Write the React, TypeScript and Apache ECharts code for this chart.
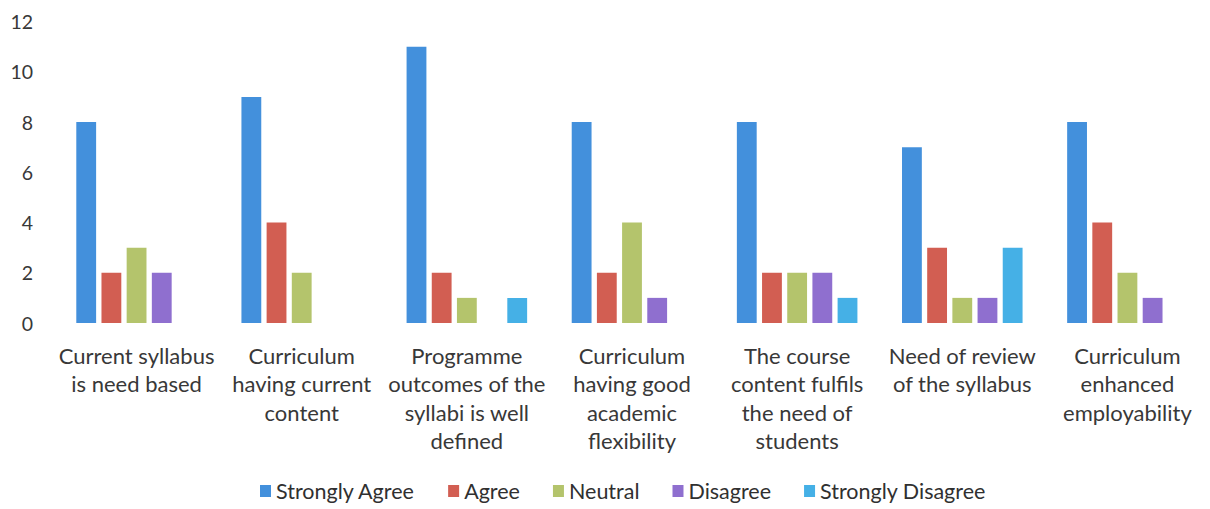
import React, { useEffect, useRef } from "react";
import * as echarts from "echarts";

const categories = [
  "Current syllabus\nis need based",
  "Curriculum\nhaving current\ncontent",
  "Programme\noutcomes of the\nsyllabi is well\ndefined",
  "Curriculum\nhaving good\nacademic\nflexibility",
  "The course\ncontent fulfils\nthe need of\nstudents",
  "Need of review\nof the syllabus",
  "Curriculum\nenhanced\nemployability",
];

const seriesNames = ["Strongly Agree", "Agree", "Neutral", "Disagree", "Strongly Disagree"];
const stronglyAgree = [8, 9, 11, 8, 8, 7, 8];
const agree = [2, 4, 2, 2, 2, 3, 4];
const neutral = [3, 2, 1, 4, 2, 1, 2];
const disagree = [2, 0, 0, 1, 2, 1, 1];
const stronglyDisagree = [0, 0, 1, 0, 1, 3, 0];
const seriesValues = [stronglyAgree, agree, neutral, disagree, stronglyDisagree];
const colors = ["#4390DC", "#D25E52", "#B4C46C", "#8F6FCF", "#45B0E6"];

const yMin = 0;
const yMax = 12;
const yInterval = 2;

const FONT = "Lato, 'Open Sans', sans-serif";
const TEXT = "#383838";

export default function App() {
  const ref = useRef<HTMLDivElement>(null);
  useEffect(() => {
    document.body.style.margin = "0";
    document.body.style.background = "#ffffff";
    if (!ref.current) return;
    const chart = echarts.init(ref.current, undefined, { renderer: "svg" });
    chart.setOption({
      animation: false,
      backgroundColor: "#ffffff",
      textStyle: { fontFamily: FONT },
      grid: { left: 54, right: -10, top: 21.5, bottom: 186, containLabel: false },
      legend: {
        bottom: 2,
        left: 255,
        itemWidth: 11,
        itemHeight: 12,
        itemGap: 33,
        icon: "rect",
        textStyle: { fontFamily: FONT, fontSize: 21.5, color: "#303030" },
        data: seriesNames,
      },
      xAxis: {
        type: "category",
        data: categories,
        axisLine: { show: false },
        axisTick: { show: false },
        axisLabel: {
          interval: 0,
          margin: 18,
          fontFamily: FONT,
          fontSize: 22,
          lineHeight: 28.5,
          color: TEXT,
          verticalAlign: "top",
        },
      },
      yAxis: {
        type: "value",
        min: yMin,
        max: yMax,
        interval: yInterval,
        axisLine: { show: false },
        axisTick: { show: false },
        splitLine: { show: false },
        axisLabel: { margin: 21, fontFamily: FONT, fontSize: 19.5, color: TEXT },
      },
      series: seriesNames.map((name, i) => ({
        name,
        type: "bar",
        data: seriesValues[i],
        barGap: "27%",
        barCategoryGap: "27%",
        itemStyle: { color: colors[i] },
      })),
    });
    return () => chart.dispose();
  }, []);
  return <div ref={ref} style={{ width: 1210, height: 509 }} />;
}
